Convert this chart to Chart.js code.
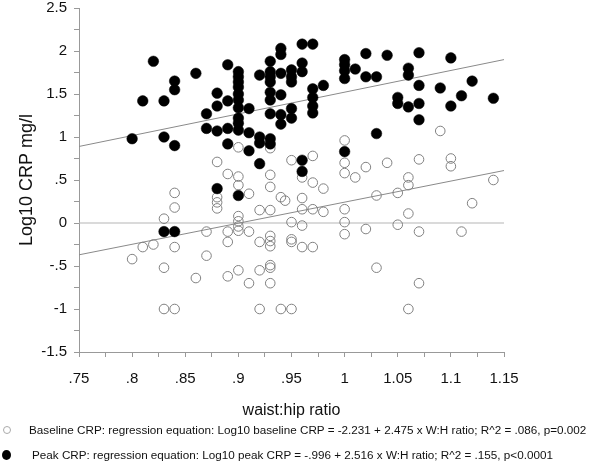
<!DOCTYPE html>
<html>
<head>
<meta charset="utf-8">
<script src="https://cdn.jsdelivr.net/npm/chart.js@4.4.0/dist/chart.umd.min.js"></script>
<style>
  html, body { margin: 0; padding: 0; background: #fff; }
  #wrap { position: relative; width: 600px; height: 465px; }
  .legend { position: absolute; font: 11.7px Arial, "Liberation Sans", sans-serif; line-height: 16px; color: #111; white-space: nowrap; }
  .mk { position: absolute; border-radius: 50%; box-sizing: border-box; }
  .mk.open { left: -26px; top: 4px; width: 8px; height: 8px; border: 1px solid #aaa; }
  .mk.fill { left: -30px; top: 3px; width: 9px; height: 10px; background: #000; }
</style>
</head>
<body>
<div id="wrap">
  <canvas id="crpChart" width="600" height="465"></canvas>
  <div class="legend" style="left:29px; top:422px"><span class="mk open"></span>Baseline CRP: regression equation: Log10 baseline CRP = -2.231 + 2.475 x W:H ratio; R^2 = .086, p=0.002</div>
  <div class="legend" style="left:32px; top:447px"><span class="mk fill"></span>Peak CRP: regression equation: Log10 peak CRP = -.996 + 2.516 x W:H ratio; R^2 = .155, p&lt;0.0001</div>
</div>
<script>
// waist:hip ratio / log10 CRP
const peakX = [
  0.80, 0.81, 0.82, 0.83, 0.83, 0.83, 0.84, 0.84, 0.84, 0.84, 0.86, 0.87, 0.87,
  0.88, 0.88, 0.88, 0.88, 0.89, 0.89, 0.89, 0.89,
  0.90, 0.90, 0.90, 0.90, 0.90, 0.90, 0.90, 0.90, 0.90, 0.90, 0.90,
  0.91, 0.91, 0.91, 0.92, 0.92, 0.92, 0.92,
  0.93, 0.93, 0.93, 0.93, 0.93, 0.93, 0.93, 0.93, 0.93,
  0.94, 0.94, 0.94, 0.94, 0.94, 0.94, 0.95, 0.95, 0.95, 0.95, 0.95,
  0.96, 0.96, 0.96, 0.96, 0.96, 0.97, 0.97, 0.97, 0.97, 0.97, 0.98,
  1.00, 1.00, 1.00, 1.00, 1.00, 1.01, 1.02, 1.02, 1.03, 1.03, 1.04,
  1.05, 1.05, 1.06, 1.06, 1.06, 1.07, 1.07, 1.07, 1.07,
  1.09, 1.10, 1.10, 1.11, 1.12, 1.14
];
const peakY = [
  0.98, 1.42, 1.88, 1.42, 1.00, -0.10, 1.65, 1.55, 0.90, -0.10, 1.74, 1.27, 1.10,
  1.51, 1.36, 1.07, 0.40, 1.84, 1.42, 1.10, 0.92,
  1.76, 1.70, 1.64, 1.58, 1.50, 1.43, 1.34, 1.22, 1.16, 1.08, 0.32,
  1.33, 1.05, 0.84, 1.72, 1.00, 0.93, 0.69,
  1.88, 1.76, 1.70, 1.64, 1.52, 1.43, 1.27, 0.98, 0.92,
  2.03, 1.96, 1.74, 1.49, 1.26, 1.15, 1.78, 1.70, 1.64, 1.33, 1.22,
  2.08, 1.86, 1.76, 0.73, 0.60, 2.08, 1.56, 1.46, 1.36, 1.28, 1.60,
  1.90, 1.84, 1.77, 1.68, 0.83, 1.79, 1.97, 1.70, 1.70, 1.04, 1.95,
  1.46, 1.39, 1.80, 1.72, 1.35, 1.98, 1.60, 1.39, 1.20,
  1.57, 1.92, 1.36, 1.48, 1.65, 1.45
];
const baselineX = [
  0.80, 0.81, 0.82, 0.83, 0.83, 0.83, 0.84, 0.84, 0.84, 0.84, 0.86, 0.87, 0.87,
  0.88, 0.88, 0.88, 0.88, 0.89, 0.89, 0.89, 0.89,
  0.90, 0.90, 0.90, 0.90, 0.90, 0.90, 0.90, 0.90,
  0.91, 0.91, 0.91, 0.92, 0.92, 0.92, 0.92,
  0.93, 0.93, 0.93, 0.93, 0.93, 0.93, 0.93, 0.93, 0.93, 0.93,
  0.94, 0.944, 0.94, 0.95, 0.95, 0.95, 0.95, 0.95,
  0.96, 0.96, 0.96, 0.96, 0.96, 0.97, 0.97, 0.97, 0.97, 0.98, 0.98,
  1.00, 1.00, 1.00, 1.00, 1.00, 1.00, 1.01, 1.02, 1.02, 1.03, 1.03, 1.04,
  1.05, 1.05, 1.06, 1.06, 1.06, 1.06, 1.07, 1.07, 1.07,
  1.09, 1.10, 1.10, 1.11, 1.12, 1.14
];
const baselineY = [
  -0.42, -0.28, -0.25, 0.05, -0.52, -1.00, 0.35, 0.18, -0.28, -1.00, -0.64, -0.10, -0.38,
  0.71, 0.30, 0.24, 0.17, 0.57, -0.10, -0.22, -0.62,
  0.88, 0.54, 0.44, 0.08, 0.02, -0.04, -0.09, -0.55,
  0.34, -0.10, -0.70, 0.15, -0.22, -0.55, -1.00,
  0.87, 0.56, 0.42, 0.15, -0.15, -0.21, -0.27, -0.49, -0.52, -0.70,
  0.30, 0.26, -1.00, 0.73, 0.01, -0.19, -0.22, -1.00,
  0.53, 0.29, 0.16, -0.03, -0.28, 0.78, 0.47, 0.16, -0.28, 0.40, 0.13,
  0.96, 0.70, 0.58, 0.16, 0.01, -0.13, 0.53, 0.65, -0.07, 0.32, -0.52, 0.70,
  0.35, -0.02, 0.53, 0.44, 0.11, -1.00, 0.74, -0.10, -0.70,
  1.07, 0.75, 0.66, -0.10, 0.23, 0.50
];
// regression lines, ends read at the axis limits
const fitX = [0.75, 1.15];
const peakFit = [0.89, 1.90];
const baselineFit = [-0.37, 0.61];
const zeroRef = [0, 0];

const FONT = 'Arial, "Liberation Sans", sans-serif';
const pts = (xs, ys) => xs.map((x, i) => ({ x: x, y: ys[i] }));

// ".75", "-.5", "1.15" style labels
function fmt(v) {
  let s = String(Math.round(v * 1000) / 1000);
  return s.replace(/^0\./, ".").replace(/^-0\./, "-.");
}

const ctx = document.getElementById("crpChart").getContext("2d");
new Chart(ctx, {
  type: "scatter",
  data: {
    datasets: [
      {
        label: "Peak CRP",
        data: pts(peakX, peakY),
        order: 0,
        pointRadius: 5.3,
        backgroundColor: "#000",
        borderColor: "#000",
        borderWidth: 0.5,
      },
      {
        label: "Baseline CRP",
        data: pts(baselineX, baselineY),
        order: 1,
        pointRadius: 4.8,
        backgroundColor: "rgba(0,0,0,0)",
        borderColor: "#808080",
        borderWidth: 1,
      },
      {
        label: "peak fit",
        data: pts(fitX, peakFit),
        order: 2,
        showLine: true,
        pointRadius: 0,
        borderColor: "#8a8a8a",
        borderWidth: 1,
      },
      {
        label: "baseline fit",
        data: pts(fitX, baselineFit),
        order: 3,
        showLine: true,
        pointRadius: 0,
        borderColor: "#8a8a8a",
        borderWidth: 1,
      },
      {
        label: "zero",
        data: pts(fitX, zeroRef),
        order: 4,
        showLine: true,
        pointRadius: 0,
        borderColor: "#b5b5b5",
        borderWidth: 1,
      },
    ],
  },
  options: {
    responsive: false,
    animation: false,
    layout: { padding: { left: 0, right: 96, top: 8, bottom: 43 } },
    plugins: { legend: { display: false }, tooltip: { enabled: false } },
    scales: {
      x: {
        type: "linear",
        min: 0.75,
        max: 1.15,
        afterFit: (scale) => { scale.height = 70; },
        border: { display: true, color: "#999", width: 1 },
        grid: { drawOnChartArea: false, drawTicks: true, tickLength: 5, tickColor: "#999" },
        ticks: {
          stepSize: 0.025,
          autoSkip: false,
          maxRotation: 0,
          padding: 13,
          color: "#111",
          font: { family: FONT, size: 15 },
          callback: (v) => (Math.round(v * 1000) % 50 === 0 ? fmt(v) : ""),
        },
        title: {
          display: true,
          text: "waist:hip ratio",
          color: "#111",
          font: { family: FONT, size: 16 },
          padding: { top: 0, bottom: 2 },
        },
      },
      y: {
        type: "linear",
        min: -1.5,
        max: 2.5,
        afterFit: (scale) => {
          scale.width = 79;
          scale.paddingTop = 0;
          scale.paddingBottom = 0;
        },
        border: { display: true, color: "#999", width: 1 },
        grid: { drawOnChartArea: false, drawTicks: true, tickLength: 5, tickColor: "#999" },
        ticks: {
          stepSize: 0.25,
          autoSkip: false,
          padding: 7,
          color: "#111",
          font: { family: FONT, size: 15 },
          callback: (v) => (Math.round(v * 100) % 50 === 0 ? fmt(v) : ""),
        },
        title: {
          display: true,
          text: "Log10 CRP mg/l",
          color: "#111",
          font: { family: FONT, size: 18 },
          padding: { top: 16, bottom: 0 },
        },
      },
    },
  },
});
</script>
</body>
</html>
